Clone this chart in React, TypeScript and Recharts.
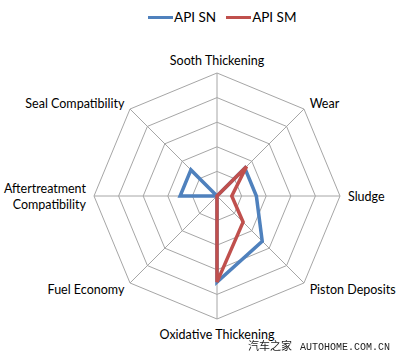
import React from "react";
import { RadarChart, Radar, PolarGrid, PolarAngleAxis, PolarRadiusAxis, Legend } from "recharts";

const categories = [
  "Sooth Thickening",
  "Wear",
  "Sludge",
  "Piston Deposits",
  "Oxidative Thickening",
  "Fuel Economy",
  "Aftertreatment Compatibility",
  "Seal Compatibility",
];
const apiSN = [0, 1.6, 1.6, 2.6, 3.5, 0, 1.5, 1.5];
const apiSM = [0, 1.7, 0.6, 1.5, 3.5, 0, 0, 0];
const radiusTicks = [0, 1, 2, 3, 4, 5];

const data = categories.map((name, i) => ({ name, sn: apiSN[i], sm: apiSM[i] }));

const BLUE = "#4F81BD";
const RED = "#C0504D";
const FONT = "Lato, 'Open Sans', sans-serif";

const labelLines: Record<string, string[]> = {
  "Aftertreatment Compatibility": ["Aftertreatment", "Compatibility"],
};

function AngleTick(props: any) {
  const { x, y, textAnchor, payload, cy } = props;
  const lines = labelLines[payload.value] || [payload.value];
  const lh = 16;
  let startY = y - ((lines.length - 1) * lh) / 2;
  if (y < cy - 100) startY = y - 5;
  if (y > cy + 100) startY = y + 7;
  return (
    <text x={x} y={startY} textAnchor={textAnchor} fontSize={12.5} fill="#000" fontFamily={FONT} dominantBaseline="central">
      {lines.map((l, i) => (
        <tspan key={l} x={x} y={startY + i * lh} dominantBaseline="central">
          {l}
        </tspan>
      ))}
    </text>
  );
}

function LegendContent() {
  const items = [
    { label: "API SN", color: BLUE },
    { label: "API SM", color: RED },
  ];
  return (
    <div style={{ display: "flex", justifyContent: "flex-start", fontFamily: FONT, fontSize: 13.5, paddingLeft: 148 }}>
      {items.map((it) => (
        <div key={it.label} style={{ display: "flex", alignItems: "center", marginRight: 10 }}>
          <span style={{ display: "inline-block", width: 25, height: 3, background: it.color, marginRight: 1 }} />
          <span>{it.label}</span>
        </div>
      ))}
    </div>
  );
}

export default function App() {
  return (
    <div style={{ position: "fixed", left: 0, top: 0, width: 400, height: 353, background: "#fff" }}>
      <RadarChart width={400} height={353} data={data} cx={217} cy={196} outerRadius={123} startAngle={90} endAngle={-270}>
        <PolarGrid gridType="polygon" stroke="#a6a6a6" strokeWidth={1} />
        <PolarAngleAxis dataKey="name" tick={(p: any) => <AngleTick {...p} cy={196} />} tickLine={false} axisLine={false} />
        <PolarRadiusAxis domain={[0, 5]} ticks={radiusTicks as any} tick={false} axisLine={false} />
        <Legend verticalAlign="top" align="center" wrapperStyle={{ top: 9, left: 0, width: 400 }} content={<LegendContent />} />
        <Radar name="API SN" dataKey="sn" stroke={BLUE} strokeWidth={3.5} fill="none" fillOpacity={0} isAnimationActive={false} />
        <Radar name="API SM" dataKey="sm" stroke={RED} strokeWidth={3.5} fill="none" fillOpacity={0} isAnimationActive={false} />
      </RadarChart>
      <div style={{ position: "absolute", left: 248, top: 338, fontSize: 11, lineHeight: "14px", color: "#222", whiteSpace: "nowrap" }}>
        <span style={{ fontFamily: "'Noto Sans CJK SC'" }}>汽车之家</span>
        <span style={{ fontFamily: "'Liberation Mono', monospace", fontSize: 10, marginLeft: 8 }}>AUTOHOME.COM.CN</span>
      </div>
    </div>
  );
}
